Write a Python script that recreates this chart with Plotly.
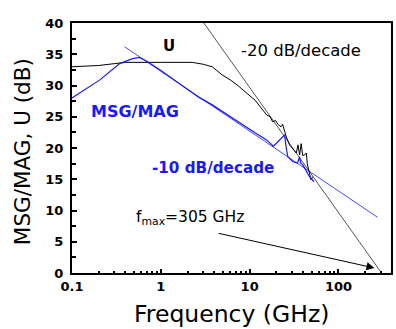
import numpy as np
import plotly.graph_objects as go

# ---- data ----
u_freq = [0.1, 0.2, 0.3, 0.4, 1.0, 2.26, 3.0, 3.79, 4.9, 6.2, 7.5, 9.5, 11.6, 15.5, 17.0, 18.1,
          19.5, 21.1, 22.6, 23.5, 24.7, 25.8, 28.1, 31.8, 33.5, 35.0, 36.5, 38.0, 39.5, 41.7,
          43.5, 44.5, 45.6, 47.2, 49.0, 51.3]
u_db = [33.0, 33.2, 33.5, 33.7, 33.7, 33.7, 33.4, 33.0, 31.7, 30.8, 29.9, 28.7, 27.6, 25.3, 25.0, 24.2,
        24.4, 23.7, 23.4, 23.8, 22.6, 21.8, 20.5, 19.7, 19.2, 20.5, 18.9, 20.7, 18.8, 18.9,
        19.2, 17.5, 16.8, 16.0, 14.9, 15.4]

msg_freq = [0.1, 0.206, 0.344, 0.48, 0.575, 0.71, 1.0, 1.61, 2.69, 3.79, 6.0, 9.75, 11.6, 15.5,
            17.7, 18.5, 20.8, 23.7, 24.7, 25.8, 26.9, 30.7, 34.6, 36.5, 37.5, 39.7, 47.1, 53.0]
msg_db = [28.0, 30.9, 33.5, 34.3, 34.5, 33.8, 32.4, 30.4, 28.1, 26.9, 25.0, 23.0, 22.4, 21.3,
          20.5, 20.3, 21.0, 21.8, 22.1, 20.0, 18.6, 17.8, 17.6, 18.6, 17.6, 17.3, 15.4, 14.6]

slope20_freq = [3.05, 305]
slope20_db = [40, 0]
slope10_freq = [0.39, 276]
slope10_db = [36.2, 8.9]

x_tick_vals = [0.1, 1, 10, 100]
x_tick_text = ["0.1", "1", "10", "100"]
y_tick_vals = [0, 5, 10, 15, 20, 25, 30, 35, 40]

BLUE = "rgb(25,25,255)"

fig = go.Figure()
fig.add_trace(go.Scatter(x=slope20_freq, y=slope20_db, mode="lines",
                         line=dict(color="rgb(40,40,40)", width=0.8), showlegend=False))
fig.add_trace(go.Scatter(x=slope10_freq, y=slope10_db, mode="lines",
                         line=dict(color=BLUE, width=0.8), showlegend=False))
fig.add_trace(go.Scatter(x=u_freq, y=u_db, mode="lines",
                         line=dict(color="black", width=1), showlegend=False))
fig.add_trace(go.Scatter(x=msg_freq, y=msg_db, mode="lines",
                         line=dict(color=BLUE, width=1.2), showlegend=False))

lg = np.log10

def ann(text, fx, y, color="black", size=15, bold=False, family="DejaVu Sans"):
    return dict(text=text, x=lg(fx), y=y, xref="x", yref="y", showarrow=False,
                font=dict(family=family, size=size, color=color,
                          weight="bold" if bold else "normal"))

annotations = [
    ann("U", 10 ** 0.095, 36.4, bold=True, size=15),
    ann("-20 dB/decade", 10 ** 1.575, 35.6, size=16.5),
    ann("MSG/MAG", 10 ** -0.296, 25.8, color=BLUE, bold=True, size=16),
    ann("-10 dB/decade", 10 ** 0.587, 16.8, color=BLUE, bold=True, size=15.2),
    ann("f<sub>max</sub>=305 GHz", 10 ** 0.33, 8.8, size=15.5),
    dict(x=lg(254), y=0.8, ax=lg(4.31), ay=6.4, xref="x", yref="y", axref="x", ayref="y",
         text="", showarrow=True, arrowhead=2, arrowsize=1.6, arrowwidth=1, arrowcolor="black"),
    dict(text="Frequency (GHz)", x=0.5, y=-0.163, xref="paper", yref="paper",
         xanchor="center", yanchor="middle", showarrow=False,
         font=dict(family="DejaVu Sans", size=23.5, color="black")),
    dict(text="MSG/MAG, U (dB)", x=-0.157, y=0.487, xref="paper", yref="paper",
         xanchor="center", yanchor="middle", textangle=-90, showarrow=False,
         font=dict(family="DejaVu Sans", size=21.5, color="black")),
]

fig.update_layout(
    width=396, height=329,
    margin=dict(l=72, r=3, t=23, b=56),
    paper_bgcolor="white", plot_bgcolor="white",
    annotations=annotations,
    font=dict(family="DejaVu Sans", color="black"),
)
fig.update_xaxes(type="log", range=[-1, lg(390)], showgrid=False, zeroline=False,
                 showline=True, linecolor="black", linewidth=2, mirror=True,
                 ticks="inside", ticklen=4, tickwidth=2, tickcolor="black",
                 tickvals=x_tick_vals, ticktext=x_tick_text,
                 tickfont=dict(family="DejaVu Sans", size=13, weight="bold", color="black"),
                 minor=dict(ticks="inside", ticklen=2, tickwidth=2, tickcolor="black", dtick="D1"))
fig.update_yaxes(range=[0, 40], showgrid=False, zeroline=False,
                 showline=True, linecolor="black", linewidth=2, mirror=True,
                 ticks="inside", ticklen=5, tickwidth=2, tickcolor="black",
                 tickvals=y_tick_vals, ticklabelstandoff=4,
                 tickfont=dict(family="DejaVu Sans", size=13, weight="bold", color="black"),
                 minor=dict(ticks="inside", ticklen=4, tickwidth=2, tickcolor="black", dtick=2.5))

fig.write_html("out.html", config={"displayModeBar": False},
               post_script="document.body.style.margin='0px';")
